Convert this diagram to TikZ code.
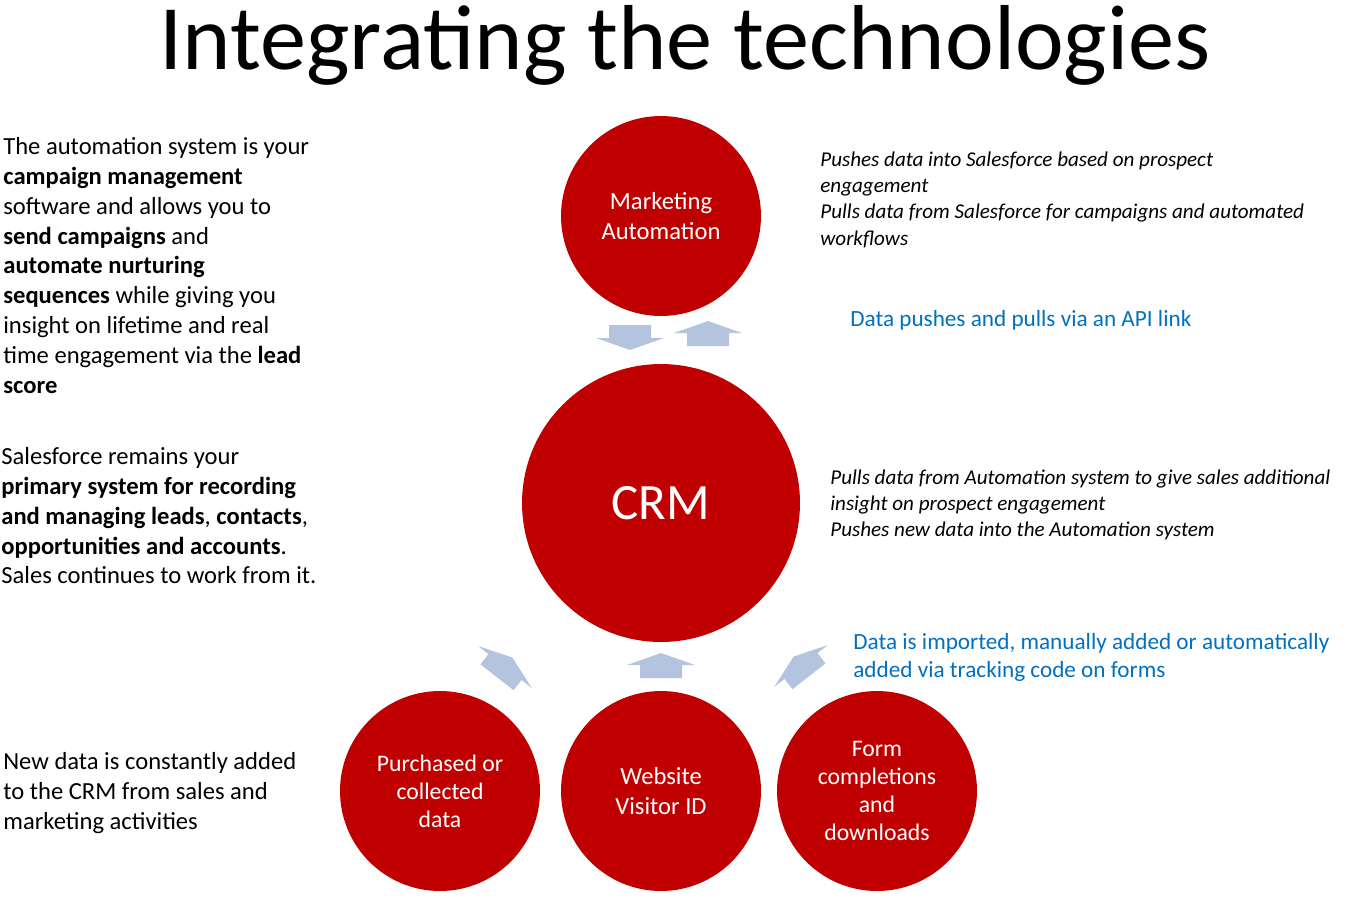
\documentclass[tikz,border=0pt]{standalone}
\usepackage{fontspec}
\setmainfont{Carlito}
\definecolor{crmred}{HTML}{C00000}
\definecolor{arrowblue}{HTML}{B4C3DE}
\definecolor{textblue}{HTML}{0070C0}
\begin{document}
\begin{tikzpicture}[x=0.02cm,y=-0.02cm,
  bubble/.style={circle,fill=crmred,text=white,inner sep=0,align=center},
  body/.style={anchor=north west,inner sep=0,align=left,font=\fontsize{14}{17}\selectfont},
  note/.style={anchor=north west,inner sep=0,align=left,font=\fontsize{12}{15}\selectfont\itshape},
  bluenote/.style={anchor=north west,inner sep=0,align=left,text=textblue,font=\fontsize{13.2}{16}\selectfont},
  blockarrow/.style={fill=arrowblue,draw=none}]
\useasboundingbox (0,0) rectangle (1348,897);
\node[inner sep=0,font=\fontsize{52.5}{60}\selectfont] (title) at (685,45) {Integrating the technologies};

\node[bubble,minimum size=4cm,font=\fontsize{14}{17}\selectfont] (ma) at (661,216) {Marketing\\Automation};
\node[bubble,minimum size=5.56cm,font=\fontsize{29}{34}\selectfont] (crm) at (661,503) {CRM};
\node[bubble,minimum size=4cm,font=\fontsize{13.5}{16}\selectfont] (pur) at (440,791) {Purchased or\\collected\\data};
\node[bubble,minimum size=4cm,font=\fontsize{14}{17}\selectfont] (web) at (661,791) {Website\\Visitor ID};
\node[bubble,minimum size=4cm,font=\fontsize{13.5}{16}\selectfont] (form) at (877,791) {Form\\completions\\and\\downloads};

% block arrows
\def\arrowshape{(0,-12) -- (34,0) -- (21,0) -- (21,13) -- (-21,13) -- (-21,0) -- (-34,0) -- cycle}
\fill[blockarrow,shift={(630,338)},rotate=180] \arrowshape;
\fill[blockarrow,shift={(708,333)}] \arrowshape;
\fill[blockarrow,shift={(661,665)}] \arrowshape;
\fill[blockarrow,shift={(505,667)},rotate=-38] \arrowshape;
\fill[blockarrow,shift={(801,666)},rotate=38] \arrowshape;

\node[body] (t1) at (3,137) {The automation system is your\\\textbf{campaign management}\\software and allows you to\\\textbf{send campaigns} and\\\textbf{automate nurturing}\\\textbf{sequences} while giving you\\insight on lifetime and real\\time engagement via the \textbf{lead}\\\textbf{score}};
\node[body] (t2) at (1,447) {Salesforce remains your\\\textbf{primary system for recording}\\\textbf{and managing leads}, \textbf{contacts},\\\textbf{opportunities and accounts}.\\Sales continues to work from it.};
\node[body] (t3) at (3,752) {New data is constantly added\\to the CRM from sales and\\marketing activities};

\node[note] (n1) at (820,151) {Pushes data into Salesforce based on prospect\\engagement\\Pulls data from Salesforce for campaigns and automated\\workflows};
\node[note] (n2) at (830,469) {Pulls data from Automation system to give sales additional\\insight on prospect engagement\\Pushes new data into the Automation system};
\node[bluenote] (b1) at (850,310) {Data pushes and pulls via an API link};
\node[bluenote] (b2) at (853,633) {Data is imported, manually added or automatically\\added via tracking code on forms};
\end{tikzpicture}
\end{document}
